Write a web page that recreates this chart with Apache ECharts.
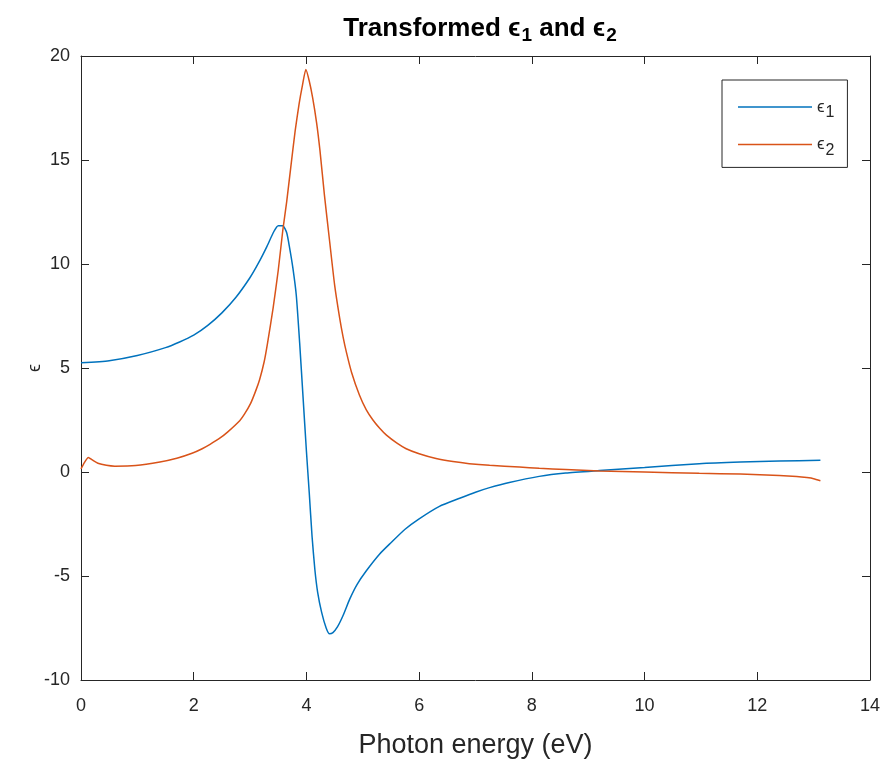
<!DOCTYPE html>
<html>
<head>
<meta charset="utf-8">
<script src="https://cdn.jsdelivr.net/npm/echarts@6/dist/echarts.min.js"></script>
<style>html,body{margin:0;padding:0;background:#fff}#c{width:885px;height:760px}</style>
</head>
<body>
<div id="c"></div>
<script>
// Photon energy (eV) samples and values
const e1Energy = [0, 0.5, 1.0, 1.5, 1.75, 2.0, 2.25, 2.5, 2.75, 3.0, 3.15, 3.3, 3.42, 3.5, 3.58, 3.65, 3.7, 3.76, 3.82, 3.88, 3.94, 4.0, 4.05, 4.1, 4.15, 4.2, 4.27, 4.35, 4.41, 4.47, 4.55, 4.65, 4.77, 4.9, 5.06, 5.3, 5.5, 5.75, 6.0, 6.36, 6.72, 7.0, 7.25, 7.6, 8.13, 8.6, 9.2, 10.0, 10.97, 11.7, 12.39, 13.12];
const e1Values = [5.25, 5.35, 5.6, 5.98, 6.25, 6.58, 7.05, 7.65, 8.4, 9.35, 10.05, 10.85, 11.55, 11.84, 11.84, 11.5, 10.8, 9.8, 8.5, 6.2, 3.6, 1.0, -1.0, -3.1, -4.7, -5.8, -6.75, -7.5, -7.78, -7.72, -7.45, -6.9, -6.1, -5.4, -4.76, -3.94, -3.4, -2.75, -2.25, -1.65, -1.26, -0.97, -0.75, -0.5, -0.21, -0.05, 0.07, 0.22, 0.4, 0.48, 0.53, 0.56];

const e2Energy = [0, 0.06, 0.13, 0.2, 0.3, 0.45, 0.6, 0.97, 1.4, 1.7, 1.97, 2.15, 2.29, 2.45, 2.6, 2.82, 2.9, 3.01, 3.1, 3.17, 3.25, 3.31, 3.41, 3.5, 3.58, 3.65, 3.72, 3.8, 3.87, 3.93, 3.99, 4.05, 4.11, 4.18, 4.24, 4.32, 4.41, 4.5, 4.59, 4.65, 4.71, 4.8, 4.94, 5.06, 5.18, 5.3, 5.42, 5.6, 5.77, 6.0, 6.3, 6.6, 6.89, 7.25, 7.78, 8.13, 8.6, 9.2, 10.0, 10.97, 11.7, 12.39, 12.7, 12.88, 13.0, 13.12];
const e2Values = [0.15, 0.45, 0.7, 0.58, 0.42, 0.32, 0.28, 0.31, 0.48, 0.66, 0.9, 1.12, 1.33, 1.6, 1.92, 2.48, 2.78, 3.3, 3.9, 4.45, 5.3, 6.2, 7.9, 9.7, 11.6, 13.0, 14.6, 16.4, 17.7, 18.6, 19.35, 18.8, 18.0, 16.8, 15.46, 13.3, 11.13, 9.0, 7.4, 6.5, 5.75, 4.8, 3.7, 3.0, 2.5, 2.1, 1.77, 1.4, 1.12, 0.88, 0.65, 0.5, 0.4, 0.32, 0.24, 0.18, 0.12, 0.05, 0.0, -0.06, -0.1, -0.17, -0.22, -0.27, -0.32, -0.42];

const xTicks = [0, 2, 4, 6, 8, 10, 12, 14];
const yTicks = [-10, -5, 0, 5, 10, 15, 20];

const seriesNames = ['e1', 'e2'];
const toPairs = (xs, ys) => xs.map((x, i) => [x, ys[i]]);

const FONT = '"Liberation Sans", Arial, Helvetica, sans-serif';
const TXT = '#262626';

const chart = echarts.init(document.getElementById('c'), null, {renderer: 'canvas'});
const axisCommon = {
  axisLine: {show: true, onZero: false, lineStyle: {color: TXT, width: 1}},
  axisTick: {show: true, inside: true, length: 8, lineStyle: {color: TXT}},
  splitLine: {show: false}
};
chart.setOption({
  backgroundColor: '#fff',
  animation: false,
  title: {
    text: '{b|Transformed }{e|ϵ}{s|1}{b| and }{e|ϵ}{s|2}',
    left: 475, top: 8, textAlign: 'center',
    textStyle: {
      rich: {
        b: {fontFamily: FONT, fontWeight: 'bold', fontSize: 26, color: '#000', lineHeight: 32},
        e: {fontFamily: FONT, fontWeight: 'bold', fontSize: 26, color: '#000', lineHeight: 32},
        s: {fontFamily: FONT, fontWeight: 'bold', fontSize: 19, color: '#000', lineHeight: 32, padding: [14, 0, 0, 1]}
      }
    }
  },
  graphic: [{
    type: 'text', x: 35, y: 368, rotation: Math.PI / 2,
    style: {text: 'ϵ', font: '18px ' + FONT, fill: TXT, align: 'center', verticalAlign: 'middle'}
  }],
  grid: {left: 81, right: 15, top: 56, bottom: 80, containLabel: false, outerBoundsMode: 'none'},
  legend: {
    data: seriesNames,
    left: 722, top: 80,
    orient: 'vertical',
    icon: 'rect',
    itemWidth: 74, itemHeight: 1.5, itemGap: 9.4,
    padding: [13, 13, 9, 16],
    borderColor: '#262626', borderWidth: 1,
    backgroundColor: '#fff',
    formatter: n => n === 'e1' ? '{e|ϵ}{s|1}' : '{e|ϵ}{s|2}',
    textStyle: {
      rich: {
        e: {fontFamily: FONT, fontSize: 17, color: TXT, lineHeight: 22},
        s: {fontFamily: FONT, fontSize: 16, color: TXT, lineHeight: 22, padding: [12, 0, 0, 1]}
      }
    }
  },
  xAxis: [
    Object.assign({
      type: 'value', min: 0, max: 14, interval: 2, position: 'bottom',
      name: 'Photon energy (eV)', nameLocation: 'middle', nameGap: 52,
      nameTextStyle: {fontFamily: FONT, fontSize: 27, color: TXT},
      axisLabel: {fontFamily: FONT, fontSize: 18, color: TXT, margin: 17}
    }, axisCommon),
    Object.assign({
      type: 'value', min: 0, max: 14, interval: 2, position: 'top',
      axisLabel: {show: false}
    }, axisCommon)
  ],
  yAxis: [
    Object.assign({
      type: 'value', min: -10, max: 20, interval: 5, position: 'left',
      axisLabel: {fontFamily: FONT, fontSize: 18, color: TXT, margin: 11}
    }, axisCommon),
    Object.assign({
      type: 'value', min: -10, max: 20, interval: 5, position: 'right',
      axisLabel: {show: false}
    }, axisCommon)
  ],
  series: [
    {
      name: 'e1', type: 'line', xAxisIndex: 0, yAxisIndex: 0,
      data: toPairs(e1Energy, e1Values),
      symbol: 'none', smooth: 0.2,
      lineStyle: {color: '#0072BD', width: 1.5}, itemStyle: {color: '#0072BD'}
    },
    {
      name: 'e2', type: 'line', xAxisIndex: 0, yAxisIndex: 0,
      data: toPairs(e2Energy, e2Values),
      symbol: 'none', smooth: 0.2,
      lineStyle: {color: '#D95319', width: 1.5}, itemStyle: {color: '#D95319'}
    }
  ]
});
</script>
</body>
</html>
